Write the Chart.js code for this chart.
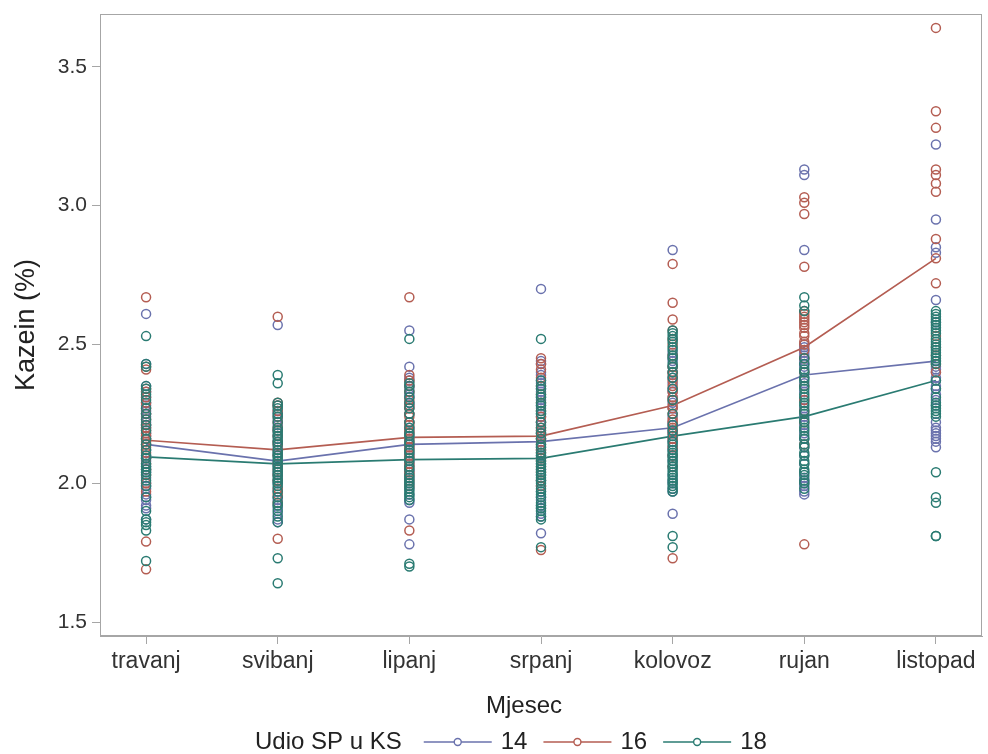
<!DOCTYPE html>
<html>
<head>
<meta charset="utf-8">
<script src="https://cdn.jsdelivr.net/npm/chart.js@4.4.1/dist/chart.umd.min.js"></script>
<style>
  html, body { margin: 0; padding: 0; background: #fff; }
  #wrap { width: 988px; height: 754px; position: relative; }
</style>
</head>
<body>
<div id="wrap"><canvas id="kazein"></canvas></div>
<script>
// categories (x axis)
const months = ['travanj', 'svibanj', 'lipanj', 'srpanj', 'kolovoz', 'rujan', 'listopad'];
const yTicks = [1.5, 2.0, 2.5, 3.0, 3.5];
const groups = ['14', '16', '18'];

// mean lines per group (Udio SP u KS)
const mean14 = [2.14, 2.08, 2.14, 2.15, 2.20, 2.39, 2.44];
const mean16 = [2.155, 2.12, 2.165, 2.17, 2.28, 2.49, 2.81];
const mean18 = [2.095, 2.07, 2.085, 2.09, 2.17, 2.24, 2.37];

// individual samples, one list per month
const obs14 = [
  [2.61, 2.43, 2.35, 2.33, 2.31, 2.29, 2.28, 2.26, 2.25, 2.24, 2.22, 2.21, 2.20, 2.18, 2.17, 2.16, 2.14, 2.12, 2.10, 2.09, 2.08, 2.06, 2.05, 2.04, 2.02, 2.00, 1.99, 1.98, 1.96, 1.95, 1.94, 1.92, 1.91, 1.87],
  [2.57, 2.28, 2.26, 2.25, 2.23, 2.21, 2.19, 2.17, 2.15, 2.13, 2.11, 2.10, 2.08, 2.07, 2.06, 2.04, 2.03, 2.01, 2.00, 1.98, 1.97, 1.95, 1.94, 1.92, 1.91, 1.89, 1.87, 1.86],
  [2.55, 2.42, 2.38, 2.37, 2.35, 2.34, 2.32, 2.31, 2.29, 2.28, 2.25, 2.22, 2.20, 2.19, 2.17, 2.16, 2.14, 2.13, 2.11, 2.10, 2.08, 2.07, 2.05, 2.04, 2.02, 2.00, 1.98, 1.96, 1.94, 1.93, 1.87, 1.78],
  [2.70, 2.44, 2.43, 2.40, 2.39, 2.37, 2.36, 2.34, 2.33, 2.31, 2.30, 2.28, 2.27, 2.25, 2.24, 2.22, 2.21, 2.19, 2.18, 2.16, 2.15, 2.13, 2.12, 2.10, 2.09, 2.07, 2.05, 2.03, 2.01, 1.99, 1.97, 1.95, 1.94, 1.92, 1.91, 1.89, 1.88, 1.82],
  [2.84, 2.47, 2.45, 2.44, 2.42, 2.40, 2.38, 2.36, 2.34, 2.33, 2.31, 2.29, 2.27, 2.24, 2.22, 2.21, 2.19, 2.18, 2.16, 2.15, 2.13, 2.12, 2.10, 2.08, 2.06, 2.03, 2.01, 2.00, 1.98, 1.97, 1.89],
  [3.13, 3.11, 2.84, 2.50, 2.49, 2.48, 2.47, 2.46, 2.45, 2.44, 2.43, 2.42, 2.40, 2.38, 2.36, 2.33, 2.30, 2.27, 2.24, 2.21, 2.18, 2.16, 2.13, 2.10, 2.07, 2.04, 2.02, 2.01, 2.00, 1.99, 1.97, 1.96],
  [3.22, 2.95, 2.85, 2.83, 2.66, 2.58, 2.44, 2.42, 2.41, 2.40, 2.38, 2.37, 2.35, 2.34, 2.32, 2.30, 2.28, 2.22, 2.20, 2.19, 2.18, 2.17, 2.16, 2.15, 2.13]
];
const obs16 = [
  [2.67, 2.42, 2.41, 2.34, 2.33, 2.31, 2.29, 2.27, 2.25, 2.23, 2.21, 2.20, 2.19, 2.18, 2.17, 2.16, 2.15, 2.14, 2.13, 2.11, 2.09, 2.07, 2.05, 2.03, 2.00, 1.97, 1.79, 1.69],
  [2.60, 2.29, 2.28, 2.26, 2.24, 2.22, 2.20, 2.19, 2.17, 2.15, 2.14, 2.12, 2.10, 2.07, 2.05, 2.03, 2.01, 1.98, 1.96, 1.93, 1.80],
  [2.67, 2.39, 2.37, 2.35, 2.33, 2.30, 2.28, 2.27, 2.25, 2.24, 2.22, 2.21, 2.19, 2.18, 2.16, 2.15, 2.13, 2.12, 2.10, 2.09, 2.07, 2.06, 2.04, 2.03, 2.01, 1.99, 1.83],
  [2.45, 2.43, 2.41, 2.38, 2.35, 2.32, 2.29, 2.26, 2.24, 2.22, 2.20, 2.19, 2.18, 2.17, 2.16, 2.14, 2.12, 2.11, 2.09, 2.08, 2.06, 2.04, 2.01, 1.99, 1.76],
  [2.79, 2.65, 2.59, 2.55, 2.52, 2.50, 2.46, 2.42, 2.40, 2.39, 2.37, 2.35, 2.33, 2.31, 2.30, 2.28, 2.27, 2.25, 2.23, 2.22, 2.20, 2.18, 2.16, 2.13, 2.10, 2.06, 1.73],
  [3.03, 3.01, 2.97, 2.78, 2.62, 2.61, 2.60, 2.59, 2.58, 2.57, 2.56, 2.54, 2.53, 2.51, 2.50, 2.48, 2.45, 2.40, 2.35, 2.30, 2.26, 2.22, 2.14, 1.78],
  [3.64, 3.34, 3.28, 3.13, 3.11, 3.08, 3.05, 2.88, 2.81, 2.72, 2.53, 2.49, 2.46, 2.43, 2.40]
];
const obs18 = [
  [2.53, 2.43, 2.42, 2.35, 2.34, 2.32, 2.30, 2.27, 2.25, 2.23, 2.21, 2.19, 2.16, 2.14, 2.12, 2.10, 2.09, 2.07, 2.06, 2.05, 2.04, 2.03, 2.01, 1.99, 1.95, 1.90, 1.87, 1.86, 1.85, 1.83, 1.72],
  [2.39, 2.36, 2.29, 2.28, 2.27, 2.25, 2.24, 2.22, 2.20, 2.19, 2.18, 2.17, 2.16, 2.15, 2.14, 2.12, 2.11, 2.10, 2.09, 2.08, 2.07, 2.06, 2.05, 2.04, 2.03, 2.02, 2.01, 2.00, 1.99, 1.97, 1.95, 1.93, 1.92, 1.90, 1.88, 1.86, 1.73, 1.64],
  [2.52, 2.36, 2.35, 2.33, 2.31, 2.29, 2.27, 2.25, 2.22, 2.20, 2.18, 2.17, 2.15, 2.14, 2.12, 2.11, 2.09, 2.08, 2.06, 2.05, 2.03, 2.02, 2.01, 2.00, 1.99, 1.98, 1.97, 1.96, 1.95, 1.94, 1.71, 1.70],
  [2.52, 2.37, 2.35, 2.34, 2.32, 2.31, 2.29, 2.28, 2.26, 2.25, 2.22, 2.20, 2.18, 2.16, 2.14, 2.13, 2.11, 2.10, 2.09, 2.08, 2.07, 2.06, 2.05, 2.04, 2.03, 2.02, 2.01, 2.00, 1.98, 1.97, 1.96, 1.95, 1.93, 1.92, 1.91, 1.90, 1.88, 1.87, 1.77],
  [2.55, 2.54, 2.53, 2.52, 2.51, 2.49, 2.48, 2.46, 2.45, 2.43, 2.42, 2.40, 2.38, 2.34, 2.30, 2.25, 2.21, 2.19, 2.17, 2.15, 2.14, 2.12, 2.11, 2.10, 2.09, 2.08, 2.07, 2.06, 2.05, 2.04, 2.03, 2.02, 2.01, 2.00, 1.99, 1.98, 1.97, 1.81, 1.77],
  [2.67, 2.64, 2.62, 2.45, 2.43, 2.41, 2.40, 2.38, 2.37, 2.35, 2.34, 2.32, 2.31, 2.29, 2.28, 2.26, 2.25, 2.23, 2.22, 2.20, 2.19, 2.17, 2.16, 2.14, 2.13, 2.11, 2.10, 2.08, 2.07, 2.05, 2.04, 2.03, 2.01, 2.00, 1.98],
  [2.62, 2.61, 2.60, 2.59, 2.58, 2.57, 2.56, 2.55, 2.54, 2.52, 2.51, 2.50, 2.49, 2.48, 2.47, 2.46, 2.45, 2.44, 2.43, 2.37, 2.34, 2.31, 2.29, 2.28, 2.27, 2.26, 2.25, 2.24, 2.04, 1.95, 1.93, 1.81, 1.81]
];

const colors = ['#6a72ad', '#b45d52', '#2a7b72'];
const FONT = '"Liberation Sans", Arial, sans-serif';

function toPoints(lists){
  const pts = [];
  lists.forEach((vals, i) => vals.forEach(v => pts.push({ x: i, y: v })));
  return pts;
}
function toLine(vals){ return vals.map((v, i) => ({ x: i, y: v })); }

const obsAll = [obs14, obs16, obs18];
const meanAll = [mean14, mean16, mean18];

// scatter first = drawn on top; green on top of the stack
const datasets = [];
[2, 1, 0].forEach(g => datasets.push({
  label: groups[g] + ' obs', data: toPoints(obsAll[g]), showLine: false,
  pointStyle: 'circle', pointRadius: 4.5, pointHoverRadius: 4.5, pointBorderWidth: 1.5,
  borderColor: colors[g], backgroundColor: 'rgba(0,0,0,0)'
}));
[2, 1, 0].forEach(g => datasets.push({
  label: groups[g], data: toLine(meanAll[g]), showLine: true,
  pointRadius: 0, borderWidth: 1.7, borderColor: colors[g], backgroundColor: colors[g]
}));

// full frame around the plot area
const framePlugin = {
  id: 'frame',
  afterDatasetsDraw(chart){
    const { ctx, chartArea: a } = chart;
    ctx.save();
    ctx.strokeStyle = '#a6a6a6';
    ctx.lineWidth = 1;
    ctx.strokeRect(a.left + 0.5, a.top + 0.5, a.right - a.left - 1, a.bottom - a.top - 1);
    ctx.restore();
  }
};

// x title + legend row: "Udio SP u KS  —o— 14  —o— 16  —o— 18"
const legendPlugin = {
  id: 'legendRow',
  afterDraw(chart){
    const { ctx } = chart;
    ctx.save();
    ctx.font = '24px ' + FONT;
    ctx.fillStyle = '#222';
    ctx.textBaseline = 'middle';
    ctx.textAlign = 'center';
    ctx.fillText('Mjesec', 524, 706);
    ctx.textAlign = 'left';
    const y = 742;
    let x = 255;
    ctx.fillText('Udio SP u KS', x, y);
    x += ctx.measureText('Udio SP u KS').width + 22;
    groups.forEach((g, i) => {
      const len = 68;
      ctx.strokeStyle = colors[i];
      ctx.lineWidth = 1.7;
      ctx.beginPath(); ctx.moveTo(x, y); ctx.lineTo(x + len, y); ctx.stroke();
      ctx.fillStyle = '#fff';
      ctx.lineWidth = 1.4;
      ctx.beginPath(); ctx.arc(x + len / 2, y, 3.5, 0, Math.PI * 2); ctx.fill(); ctx.stroke();
      x += len + 9;
      ctx.fillStyle = '#222';
      ctx.fillText(g, x, y);
      x += ctx.measureText(g).width + 16;
    });
    ctx.restore();
  }
};

new Chart(document.getElementById('kazein'), {
  type: 'scatter',
  data: { datasets },
  plugins: [framePlugin, legendPlugin],
  options: {
    responsive: true,
    maintainAspectRatio: false,
    animation: false,
    layout: { padding: { top: 14, right: 3, left: 0, bottom: 34 } },
    plugins: { legend: { display: false }, tooltip: { enabled: false } },
    scales: {
      x: {
        type: 'linear', min: -0.35, max: 6.35,
        afterBuildTicks: axis => { axis.ticks = months.map((m, i) => ({ value: i })); },
        afterFit: scale => { scale.height = 84; scale.paddingLeft = 0; scale.paddingRight = 0; },
        grid: { drawOnChartArea: false, drawTicks: true, tickLength: 8, color: '#a6a6a6' },
        border: { display: true, color: '#a6a6a6' },
        ticks: {
          autoSkip: false, maxRotation: 0, padding: 4, color: '#333',
          font: { family: FONT, size: 23 },
          callback: v => months[v]
        },
        title: { display: false }
      },
      y: {
        type: 'linear', min: 1.45, max: 3.69,
        afterBuildTicks: axis => { axis.ticks = yTicks.map(v => ({ value: v })); },
        afterFit: scale => { scale.width = 100; scale.paddingTop = 0; scale.paddingBottom = 0; },
        grid: { drawOnChartArea: false, drawTicks: true, tickLength: 8, color: '#a6a6a6' },
        border: { display: true, color: '#a6a6a6' },
        ticks: { padding: 5, color: '#333', font: { family: FONT, size: 21 }, callback: v => v.toFixed(1) },
        title: { display: true, text: 'Kazein (%)', color: '#222', font: { family: FONT, size: 27 }, padding: { top: 10, bottom: 0 } }
      }
    }
  }
});
</script>
</body>
</html>
